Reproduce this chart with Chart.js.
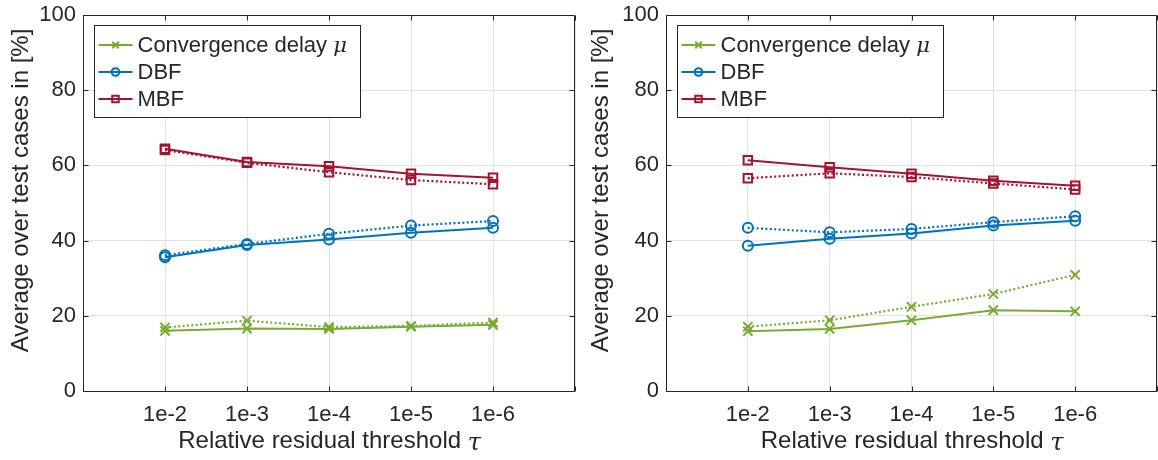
<!DOCTYPE html>
<html>
<head>
<meta charset="utf-8">
<script src="https://cdn.jsdelivr.net/npm/chart.js@4.4.1/dist/chart.umd.min.js"></script>
<style>
  html, body { margin: 0; padding: 0; background: #ffffff; }
  body { width: 1158px; height: 460px; position: relative; overflow: hidden; }
  .panel { position: absolute; top: 0; width: 579px; height: 460px; }
</style>
</head>
<body>
<div class="panel" style="left:0px"><canvas id="leftChart"></canvas></div>
<div class="panel" style="left:579px"><canvas id="rightChart"></canvas></div>
<script>
// ---------------- data ----------------
const thresholdLabels = ['1e-2', '1e-3', '1e-4', '1e-5', '1e-6'];
const thresholdPositions = [1, 2, 3, 4, 5];
const seriesNames = ['Convergence delay ', 'DBF', 'MBF'];
const yTickStep = 20;
const xAxisTitle = 'Relative residual threshold ';
const yAxisTitle = 'Average over test cases in [%]';

// left panel
const leftDelaySolid  = [16.0, 16.6, 16.5, 17.1, 17.6];
const leftDelayDotted = [16.9, 18.7, 17.0, 17.3, 18.2];
const leftDbfSolid    = [35.6, 38.8, 40.3, 42.1, 43.4];
const leftDbfDotted   = [36.1, 39.1, 41.8, 44.0, 45.2];
const leftMbfSolid    = [64.4, 60.9, 59.8, 57.8, 56.7];
const leftMbfDotted   = [64.1, 60.7, 58.2, 56.1, 55.0];

// right panel
const rightDelaySolid  = [15.9, 16.5, 18.8, 21.5, 21.2];
const rightDelayDotted = [17.1, 18.8, 22.4, 25.8, 30.9];
const rightDbfSolid    = [38.6, 40.5, 41.9, 44.0, 45.3];
const rightDbfDotted   = [43.4, 42.2, 43.1, 44.9, 46.5];
const rightMbfSolid    = [61.4, 59.5, 57.8, 55.9, 54.6];
const rightMbfDotted   = [56.6, 57.9, 56.9, 55.2, 53.6];

// ---------------- styling ----------------
const GREEN = '#77AC30', BLUE = '#0072BD', RED = '#A2142F';
const AXIS = '#262626', GRID = '#e2e2e2';
const FONT = "'Liberation Sans', Arial, Helvetica, sans-serif";
const MATHFONT = '"DejaVu Serif", "Liberation Serif", serif';

const styles = [
  { color: GREEN, pointStyle: 'crossRot', radius: 6.5, legendRadius: 4.6 },
  { color: BLUE,  pointStyle: 'circle',   radius: 5.0, legendRadius: 3.8 },
  { color: RED,   pointStyle: 'rect',     radius: 6.0, legendRadius: 4.6 }
];

function pts(values) {
  return values.map((v, i) => ({ x: thresholdPositions[i], y: v }));
}

function makeDatasets(solids, dotteds) {
  const ds = [];
  dotteds.forEach((vals, k) => {
    const s = styles[k];
    ds.push({
      label: seriesNames[k] + ' (dotted)', data: pts(vals), inLegend: false,
      borderColor: s.color, backgroundColor: 'rgba(0,0,0,0)', borderWidth: 2.2,
      borderDash: [2, 2.4], pointStyle: s.pointStyle, pointRadius: s.radius,
      pointBorderWidth: 2, pointBorderColor: s.color, pointBackgroundColor: 'rgba(0,0,0,0)',
      pointHoverRadius: s.radius, tension: 0, fill: false
    });
  });
  solids.forEach((vals, k) => {
    const s = styles[k];
    ds.push({
      label: seriesNames[k], data: pts(vals), inLegend: true, legendRadius: s.legendRadius,
      borderColor: s.color, backgroundColor: 'rgba(0,0,0,0)', borderWidth: 2,
      pointStyle: s.pointStyle, pointRadius: s.radius,
      pointBorderWidth: 2, pointBorderColor: s.color, pointBackgroundColor: 'rgba(0,0,0,0)',
      pointHoverRadius: s.radius, tension: 0, fill: false
    });
  });
  return ds;
}

// axes box with inward ticks, y title, legend box
const boxPlugin = {
  id: 'matlabBox',
  afterDraw(chart, args, opts) {
    const ctx = chart.ctx;
    const a = chart.chartArea;
    const L = Math.round(a.left) + 0.5, R = Math.round(a.right) - 0.5;
    const T = Math.round(a.top) + 0.5, B = Math.round(a.bottom) + 0.5;
    ctx.save();
    ctx.strokeStyle = AXIS;
    ctx.lineWidth = 1;
    ctx.setLineDash([]);
    ctx.beginPath();
    ctx.rect(L, T, R - L, B - T);
    const xs = chart.scales.x, ys = chart.scales.y;
    const tl = 5;
    xs.ticks.forEach(t => {
      const px = Math.round(xs.getPixelForValue(t.value)) + 0.5;
      ctx.moveTo(px, B); ctx.lineTo(px, B - tl);
      ctx.moveTo(px, T); ctx.lineTo(px, T + tl);
    });
    ys.ticks.forEach(t => {
      const py = Math.round(ys.getPixelForValue(t.value)) + 0.5;
      ctx.moveTo(L, py); ctx.lineTo(L + tl, py);
      ctx.moveTo(R, py); ctx.lineTo(R - tl, py);
    });
    ctx.stroke();

    // y axis title
    ctx.save();
    ctx.translate(opts.yTitleX, 190.5);
    ctx.rotate(-Math.PI / 2);
    ctx.fillStyle = AXIS;
    ctx.font = '24px ' + FONT;
    ctx.textAlign = 'center';
    ctx.textBaseline = 'middle';
    ctx.fillText(yAxisTitle, 0, 0);
    ctx.restore();

    // legend
    const lx = Math.round(a.left) + 11.5, ly = Math.round(a.top) + 10.5;
    const lw = 266, lh = 92;
    ctx.fillStyle = '#ffffff';
    ctx.fillRect(lx, ly, lw, lh);
    ctx.strokeStyle = AXIS;
    ctx.strokeRect(lx, ly, lw, lh);
    const items = chart.data.datasets.filter(d => d.inLegend);
    items.forEach((d, i) => {
      const cy = ly + 19.5 + i * 27;
      ctx.strokeStyle = d.borderColor;
      ctx.lineWidth = 2;
      ctx.beginPath();
      ctx.moveTo(lx + 4, cy); ctx.lineTo(lx + 38, cy);
      ctx.stroke();
      ctx.fillStyle = 'rgba(0,0,0,0)';
      Chart.helpers.drawPoint(ctx, {
        pointStyle: d.pointStyle, radius: d.legendRadius, borderWidth: 1.8, rotation: 0
      }, lx + 21, cy);
      ctx.fillStyle = AXIS;
      ctx.font = '22px ' + FONT;
      ctx.textBaseline = 'middle';
      ctx.textAlign = 'left';
      ctx.fillText(d.label, lx + 43, cy + 1);
      if (i === 0) {
        const w = ctx.measureText(d.label).width;
        ctx.font = 'italic 21px ' + MATHFONT;
        ctx.fillText('\u03BC', lx + 43 + w, cy + 2);
      }
    });

    // tau after x title
    ctx.font = '24px ' + FONT;
    const w1 = ctx.measureText(xAxisTitle + '\u2002').width;
    const w0 = ctx.measureText(xAxisTitle).width;
    const cx = (xs.left + xs.right) / 2;
    ctx.font = 'italic 24px ' + MATHFONT;
    ctx.fillStyle = AXIS;
    ctx.textBaseline = 'middle';
    ctx.textAlign = 'left';
    ctx.fillText('\u03C4', cx - w1 / 2 + w0, 460 - 4 - 14.4 + 2);
    ctx.restore();
  }
};

function makeChart(id, yWidth, padRight, yTitleX, solids, dotteds) {
  return new Chart(document.getElementById(id), {
    type: 'line',
    data: { datasets: makeDatasets(solids, dotteds) },
    plugins: [boxPlugin],
    options: {
      responsive: true,
      maintainAspectRatio: false,
      animation: false,
      events: [],
      layout: { autoPadding: false, padding: { top: 15, right: padRight, left: 0, bottom: 0 } },
      plugins: { legend: { display: false }, tooltip: { enabled: false }, matlabBox: { yTitleX } },
      scales: {
        x: {
          type: 'linear', min: 0, max: 6,
          afterFit(s) { s.height = 69; },
          afterBuildTicks(s) { s.ticks = [0, 1, 2, 3, 4, 5, 6].map(v => ({ value: v })); },
          ticks: {
            stepSize: 1, autoSkip: false, maxRotation: 0, padding: 0,
            color: AXIS, font: { family: FONT, size: 22 },
            callback: v => (v >= 1 && v <= 5) ? thresholdLabels[v - 1] : ''
          },
          grid: { color: GRID, lineWidth: 1, drawTicks: true, tickLength: 11, tickColor: 'rgba(0,0,0,0)' },
          border: { display: false },
          title: {
            display: true, text: xAxisTitle + '\u2002', color: AXIS,
            font: { family: FONT, size: 24 }, padding: { top: 0, bottom: 4 }
          }
        },
        y: {
          min: 0, max: 100,
          afterFit(s) { s.width = yWidth; },
          ticks: {
            stepSize: yTickStep, padding: 0, color: AXIS,
            font: { family: FONT, size: 22 }
          },
          grid: { color: GRID, lineWidth: 1, drawTicks: true, tickLength: 7, tickColor: 'rgba(0,0,0,0)' },
          border: { display: false },
          title: { display: false, text: yAxisTitle }
        }
      }
    }
  });
}

makeChart('leftChart', 83, 4, 21,
  [leftDelaySolid, leftDbfSolid, leftMbfSolid],
  [leftDelayDotted, leftDbfDotted, leftMbfDotted]);
makeChart('rightChart', 87, 1, 22,
  [rightDelaySolid, rightDbfSolid, rightMbfSolid],
  [rightDelayDotted, rightDbfDotted, rightMbfDotted]);
</script>
</body>
</html>
